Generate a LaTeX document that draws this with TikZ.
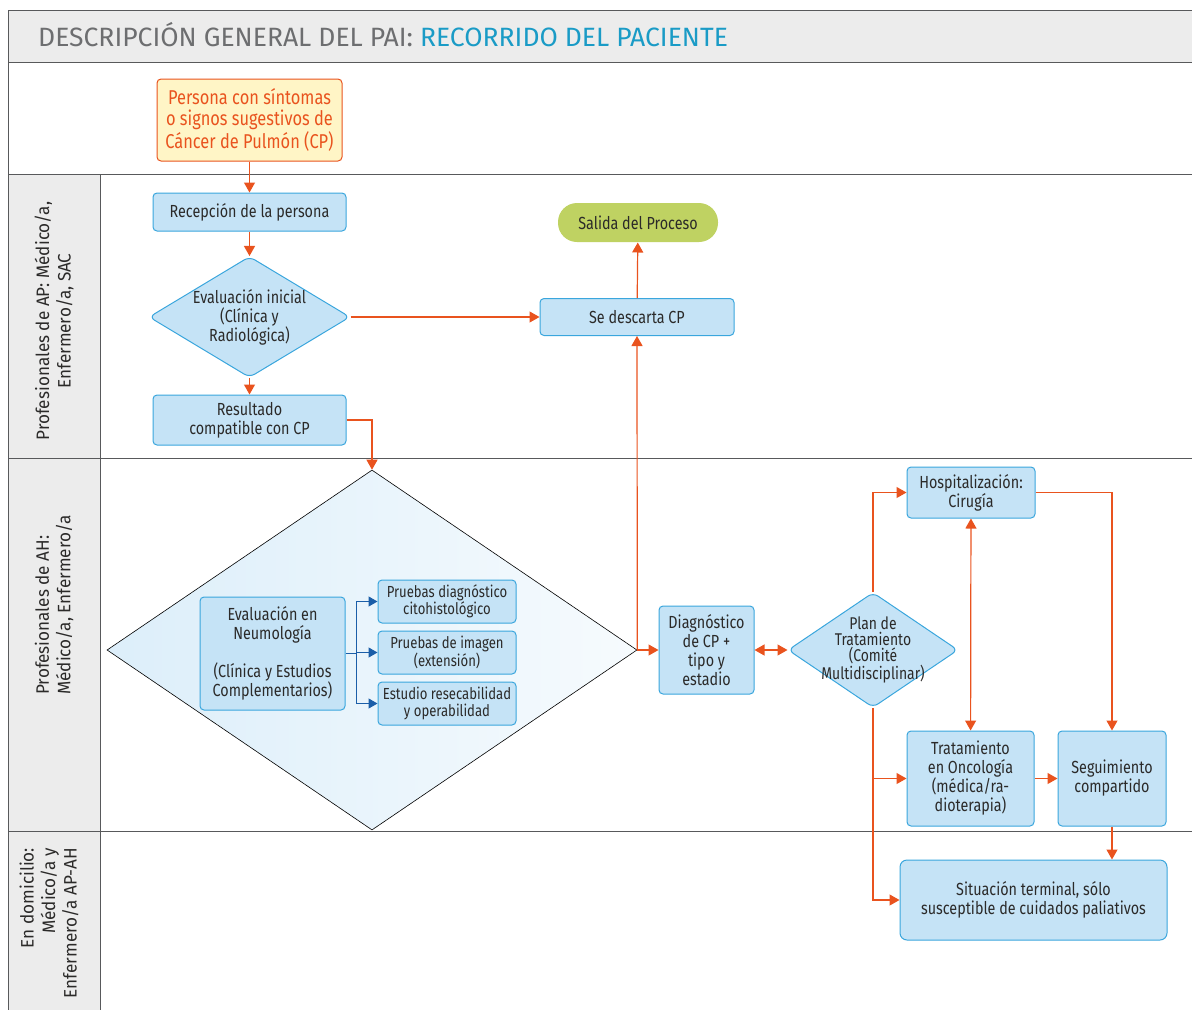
\documentclass[tikz,border=0pt]{standalone}
\usepackage{fontspec}
\setmainfont{Fira Sans}[FakeStretch=0.82]
\newfontfamily\titlefont{Fira Sans}
\newfontfamily\lanefont{Fira Sans}[FakeStretch=0.95]
\usetikzlibrary{shapes.geometric,arrows.meta}

\definecolor{framegray}{HTML}{58595B}
\definecolor{bandgray}{HTML}{ECECEC}
\definecolor{titlegray}{HTML}{6D6E70}
\definecolor{titleteal}{HTML}{1A9BC6}
\definecolor{txtdark}{HTML}{2B2A29}
\definecolor{boxblue}{HTML}{C5E3F6}
\definecolor{boxline}{HTML}{3AA6DD}
\definecolor{flowred}{HTML}{E9531E}
\definecolor{startfill}{HTML}{FFF5C6}
\definecolor{exitgreen}{HTML}{BFD262}
\definecolor{subblue}{HTML}{1B5EA8}

\tikzset{
  procbox/.style={draw=boxline, fill=boxblue, line width=1pt, rounded corners=4pt,
    align=center, inner sep=0pt, text=txtdark, font=\fontsize{17.5}{19}\selectfont},
  smallbox/.style={procbox, font=\fontsize{16}{16.5}\selectfont},
  decision/.style={procbox, diamond, rounded corners=6pt, inner sep=-15pt},
  startbox/.style={procbox, draw=flowred, fill=startfill, text=flowred,
    font=\fontsize{20}{21}\selectfont},
  exitbox/.style={procbox, draw=none, fill=exitgreen, rounded corners=19pt},
  lanelabel/.style={rotate=90, text=txtdark, font=\lanefont\fontsize{18}{21.5}\selectfont},
  flow/.style={draw=flowred, line width=1.2pt, -{Triangle[length=10pt,width=11pt]}},
  bothflow/.style={flow, {Triangle[length=10pt,width=11pt]}-{Triangle[length=10pt,width=11pt]}},
  subflow/.style={draw=subblue, line width=1.2pt, -{Triangle[length=9pt,width=10pt]}}
}

\begin{document}
\begin{tikzpicture}[x=1pt, y=-1pt]
  \useasboundingbox (0,0) rectangle (1192,1010);

  % Draw the title band and the lanes
  \fill[bandgray] (8,10) rectangle (1192,62);
  \fill[bandgray] (8,174) rectangle (100,1010);
  \draw[framegray, line width=1pt] (1192,10) -- (8,10) -- (8,1010);
  \foreach \y in {62,174,458,831}
    \draw[framegray, line width=1pt] (8,\y) -- (1192,\y);
  \draw[framegray, line width=1pt] (100,174) -- (100,1010);

  \node[anchor=base west, inner sep=0pt, font=\titlefont\fontsize{26.5}{28}\selectfont] (title) at (38,46)
    {\textcolor{titlegray}{DESCRIPCIÓN GENERAL DEL PAI:} \textcolor{titleteal}{RECORRIDO DEL PACIENTE}};

  % Lane labels
  \node[lanelabel, align=center] (laneap) at (54,321) {Profesionales de AP: Médico/a,\\Enfermero/a, SAC};
  \node[lanelabel, align=left] (laneah) at (54,605) {Profesionales de AH:\\Médico/a, Enfermero/a};
  \node[lanelabel, align=right] (lanedom) at (49,923) {En domicilio:\\Médico/a y\\Enfermero/a AP-AH};

  % Primary care lane
  \node[startbox, minimum width=185, minimum height=82] (persona) at (249.5,120)
    {Persona con síntomas\\o signos sugestivos de\\Cáncer de Pulmón (CP)};
  \node[procbox, minimum width=193, minimum height=38] (recepcion) at (249.5,212) {Recepción de la persona};
  \node[decision, minimum width=201, minimum height=121] (evalini) at (249.5,317)
    {Evaluación inicial\\(Clínica y\\Radiológica)};
  \node[procbox, minimum width=193, minimum height=50] (resultado) at (249.5,420) {Resultado\\compatible con CP};
  \node[exitbox, minimum width=160, minimum height=39] (salida) at (638,222.5) {Salida del Proceso};
  \node[procbox, minimum width=194, minimum height=37] (descarta) at (637,317) {Se descarta CP};

  % Hospital lane
  \node[diamond, draw=black, line width=0.6pt, left color=boxblue!60!white, right color=boxblue!15!white,
    minimum width=530, minimum height=360, inner sep=0pt] (neumodia) at (372,650) {};
  \node[procbox, minimum width=145, minimum height=113] (neumo) at (272.5,653.5)
    {Evaluación en\\Neumología\\[19pt](Clínica y Estudios\\Complementarios)};
  \node[smallbox, minimum width=138, minimum height=43] (citohist) at (447,601.5) {Pruebas diagnóstico\\citohistológico};
  \node[smallbox, minimum width=138, minimum height=43] (imagen) at (447,652.5) {Pruebas de imagen\\(extensión)};
  \node[smallbox, minimum width=138, minimum height=43] (resecab) at (447,703.5) {Estudio resecabilidad\\y operabilidad};
  \node[procbox, minimum width=95, minimum height=88] (diagnostico) at (706.5,650) {Diagnóstico\\de CP +\\tipo y\\estadio};
  \node[decision, minimum width=170, minimum height=115, font=\fontsize{17}{16}\selectfont] (plan) at (873,650)
    {Plan de\\Tratamiento\\(Comité\\Multidisciplinar)};
  \node[procbox, minimum width=128, minimum height=51] (hospital) at (971,492.5) {Hospitalización:\\Cirugía};
  \node[procbox, minimum width=127, minimum height=95] (oncologia) at (970.5,778.5)
    {Tratamiento\\en Oncología\\(médica/ra-\\dioterapia)};
  \node[procbox, minimum width=108, minimum height=95] (seguimiento) at (1112,778.5) {Seguimiento\\compartido};

  % Home lane
  \node[procbox, rounded corners=7pt, minimum width=267, minimum height=80] (terminal) at (1033.5,900)
    {Situación terminal, sólo\\susceptible de cuidados paliativos};

  % Connectors
  \draw[flow] (persona) -- (recepcion);
  \draw[flow] (recepcion) -- (evalini);
  \draw[flow] (evalini) -- (resultado);
  \draw[flow] (evalini) -- (descarta);
  \draw[flow] (descarta) -- (salida);
  \draw[flow] (resultado.east) -| (neumodia.north);
  \draw[flow] (neumodia.east) -- (descarta.south);
  \draw[flow] (neumodia.east) -- (diagnostico.west);
  \draw[bothflow] (diagnostico) -- (plan);
  \draw[flow] (plan.north) |- (hospital.west);
  \draw[flow] (plan.south) |- (oncologia.west);
  \draw[flow] (plan.south) |- (terminal.west);
  \draw[bothflow] (hospital) -- (oncologia);
  \draw[flow] (hospital.east) -| (seguimiento.north);
  \draw[flow] (oncologia) -- (seguimiento);
  \draw[flow] (seguimiento.south) -- (seguimiento.south |- terminal.north);

  % Tests inside the pneumology block
  \coordinate (bus) at ([xshift=11]neumo.east);
  \draw[draw=subblue, line width=1.2pt] (neumo.east) -- (bus);
  \foreach \t in {citohist,imagen,resecab}
    \draw[subflow] (bus) |- (\t.west);
\end{tikzpicture}
\end{document}
